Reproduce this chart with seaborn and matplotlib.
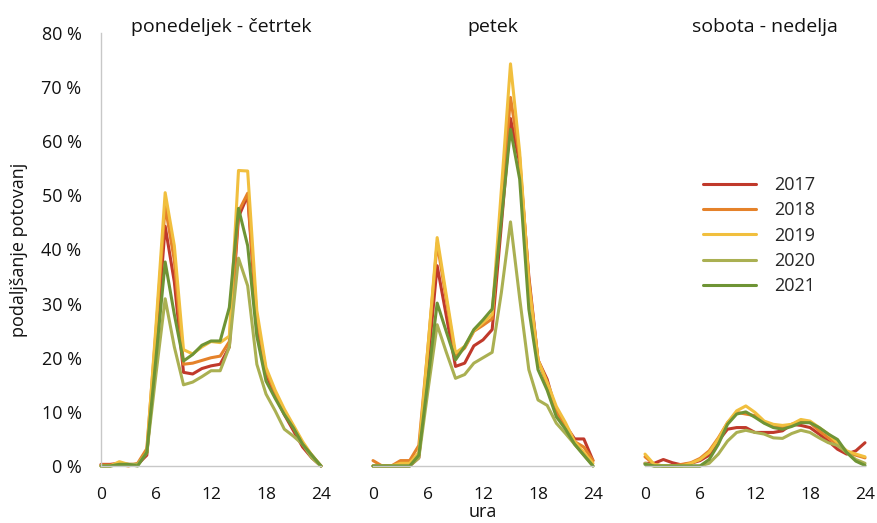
import numpy as np
import pandas as pd
import matplotlib
matplotlib.use("Agg")
import matplotlib.pyplot as plt
import seaborn as sns
from matplotlib.lines import Line2D

hours = list(range(25))
years = ["2017", "2018", "2019", "2020", "2021"]
panels = ["ponedeljek - četrtek", "petek", "sobota - nedelja"]
colors = ["#C0392B", "#E5822A", "#F1BF3E", "#AAB052", "#6E9435"]
x_ticks = [0, 6, 12, 18, 24]
y_ticks = [0, 10, 20, 30, 40, 50, 60, 70, 80]

# ponedeljek - četrtek
mon_thu_2017 = [0.3, 0.3, 0.5, 0.3, 0.3, 2.0, 22, 44.3, 34, 17.3, 17, 18, 18.5, 18.8, 22, 46, 50, 26, 17, 13, 9.5, 6.5, 3.5, 1.5, 0]
mon_thu_2018 = [0.2, 0.2, 0.3, 0.0, 0.5, 3.2, 25, 48, 38, 18.8, 19, 19.5, 20, 20.3, 23, 47, 50.4, 27.5, 17.6, 13.5, 10, 7, 4, 2, 0]
mon_thu_2019 = [0.0, 0.0, 0.8, 0.3, 0.3, 2.5, 26, 50.5, 40.7, 21.5, 20.7, 22, 23, 22.8, 24, 54.6, 54.5, 28.7, 18.2, 14, 10.5, 7.5, 4.5, 2, 0]
mon_thu_2020 = [0.0, 0.0, 0.3, 0.3, 0.3, 2.5, 17, 30.9, 22, 15, 15.5, 16.5, 17.6, 17.6, 22, 38.4, 33.3, 18.8, 13.3, 10.2, 6.8, 5.5, 4, 1.5, 0]
mon_thu_2021 = [0.0, 0.0, 0.3, 0.3, 0.0, 2.5, 20, 37.7, 28, 19.4, 20.6, 22.3, 23.1, 23.1, 29.3, 47.6, 40.7, 24, 15.7, 12.5, 9.5, 7, 4, 2, 0]

# petek
fri_2017 = [0, 0, 0, 0, 0, 1.5, 19, 37, 27.7, 18.4, 19, 22.2, 23.3, 25.2, 44.5, 64.2, 56, 35, 19.6, 16, 10, 7.5, 5, 5, 1]
fri_2018 = [1, 0, 0, 1, 1, 3.8, 22, 41.2, 30.7, 20.2, 21.8, 24.9, 26, 27.2, 47.5, 68.1, 57, 34.4, 19.6, 15, 10, 7.5, 4.5, 3.5, 1]
fri_2019 = [0, 0, 0, 0.5, 0.5, 2.5, 22, 42.2, 31.5, 20.9, 22.1, 25, 26.5, 28, 51, 74.3, 58, 33.8, 19.6, 15.5, 11, 8, 4.5, 2.5, 0.5]
fri_2020 = [0, 0, 0, 0, 0, 1.5, 14, 26.1, 21, 16.2, 16.9, 19, 20, 21, 32, 45.1, 31, 17.8, 12.2, 11.2, 7.9, 6, 4, 2, 0]
fri_2021 = [0, 0, 0, 0, 0, 2, 16, 30.1, 24.8, 19.6, 22.1, 25.2, 27, 29, 45.5, 62.2, 53, 29, 17.8, 14, 9.1, 6.8, 4, 2, 0]

# sobota - nedelja
wknd_2017 = [0.5, 0.5, 1.2, 0.6, 0.2, 0.5, 1.0, 2.0, 4.6, 6.8, 7.1, 7.1, 6.2, 6.2, 6.2, 6.5, 7.7, 7.5, 7.1, 5.9, 4.6, 3.1, 2.2, 2.8, 4.3]
wknd_2018 = [1.7, 0.3, 0.0, 0.0, 0.3, 0.6, 1.4, 2.8, 5.2, 8.0, 9.9, 9.6, 9.3, 8.0, 7.4, 7.1, 7.7, 8.3, 8.0, 6.5, 5.2, 4.0, 2.6, 2.0, 1.5]
wknd_2019 = [2.2, 0.3, 0.0, 0.0, 0.0, 0.5, 1.2, 2.5, 5.0, 8.0, 10.2, 11.1, 9.9, 8.3, 7.7, 7.5, 7.7, 8.6, 8.3, 7.1, 5.9, 4.3, 2.8, 2.2, 1.7]
wknd_2020 = [0.5, 0.0, 0.0, 0.0, 0.0, 0.0, 0.0, 0.5, 2.2, 4.6, 6.2, 6.6, 6.2, 5.9, 5.2, 5.1, 6.0, 6.6, 6.2, 5.2, 4.3, 3.8, 2.5, 1.2, 0.5]
wknd_2021 = [0.3, 0.0, 0.0, 0.0, 0.0, 0.0, 0.0, 1.2, 4.0, 7.7, 9.6, 10.0, 9.0, 7.9, 7.1, 6.8, 7.3, 8.0, 8.0, 7.1, 5.9, 4.9, 2.5, 0.9, 0.1]

series = {
    panels[0]: [mon_thu_2017, mon_thu_2018, mon_thu_2019, mon_thu_2020, mon_thu_2021],
    panels[1]: [fri_2017, fri_2018, fri_2019, fri_2020, fri_2021],
    panels[2]: [wknd_2017, wknd_2018, wknd_2019, wknd_2020, wknd_2021],
}

rows = []
for panel, values_by_year in series.items():
    for year, values in zip(years, values_by_year):
        for h, v in zip(hours, values):
            rows.append({"obdobje": panel, "leto": year, "ura": h, "delez": v})
df = pd.DataFrame(rows)

sns.set_theme(style="white")
plt.rcParams["font.family"] = ["Open Sans", "DejaVu Sans"]

W, H = 878, 523
fig = plt.figure(figsize=(W / 100, H / 100), dpi=100)

x_left = [101, 373, 645]
ax_w = 220
y_top, y_bot = 33, 466
spine_col = "#C8C8C8"
palette = dict(zip(years, colors))

axes = []
for i, panel in enumerate(panels):
    ax = fig.add_axes([x_left[i] / W, 1 - y_bot / H, ax_w / W, (y_bot - y_top) / H])
    sub = df[df["obdobje"] == panel]
    sns.lineplot(data=sub, x="ura", y="delez", hue="leto", hue_order=years,
                 palette=palette, linewidth=2.2, legend=False, ax=ax)
    for ln in ax.lines:
        ln.set_clip_on(False)
    ax.set_xlim(0, 24)
    ax.set_ylim(0, 80)
    ax.set_xticks(x_ticks)
    ax.set_xticklabels([str(t) for t in x_ticks], fontsize=12.5, color="#111111")
    ax.tick_params(axis="x", direction="out", length=7, width=1, color=spine_col, pad=8)
    for s in ["top", "right"]:
        ax.spines[s].set_visible(False)
    ax.spines["bottom"].set_color(spine_col)
    ax.spines["bottom"].set_linewidth(1)
    if i == 0:
        ax.spines["left"].set_color(spine_col)
        ax.spines["left"].set_linewidth(1)
        ax.set_yticks(y_ticks)
        ax.set_yticklabels([f"{t} %" for t in y_ticks], fontsize=13, color="#111111")
        ax.tick_params(axis="y", direction="out", length=7, width=1, color=spine_col, pad=7)
        ax.set_ylabel("podaljšanje potovanj", fontsize=13, color="#111111", labelpad=10)
    else:
        ax.spines["left"].set_visible(False)
        ax.set_yticks([])
        ax.set_ylabel("")
    ax.set_xlabel("")
    title = ax.set_title(panel, fontsize=14, color="#111111", pad=1)
    title.set_x(0.5 + 10 / ax_w)
    axes.append(ax)

fig.text(483 / W, 1 - 512 / H, "ura", ha="center", va="center", fontsize=13, color="#111111")

handles = [Line2D([], [], color=c, linewidth=2.2) for c in colors]
axes[2].legend(handles, years, loc="upper left", bbox_to_anchor=((696 - 645) / ax_w, (y_bot - 169) / (y_bot - y_top)),
               frameon=False, fontsize=13, handlelength=2.9, handletextpad=1.0, labelspacing=0.4,
               borderaxespad=0)

fig.savefig("out.png", dpi=100)
